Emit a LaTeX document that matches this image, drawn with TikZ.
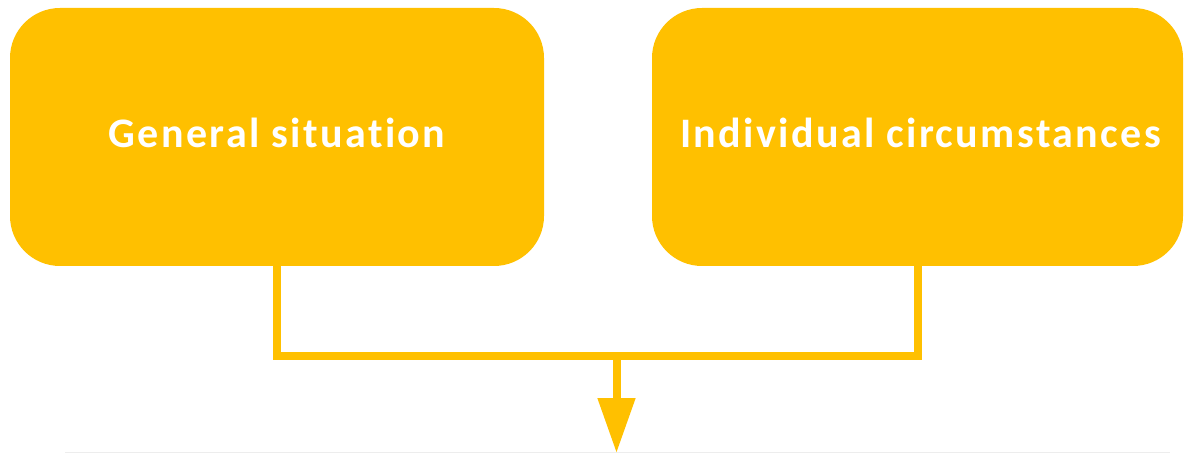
\documentclass[tikz,border=0pt]{standalone}
\usepackage{fontspec}
\setmainfont[Ligatures=NoCommon,LetterSpace=5.7]{Carlito}
\usetikzlibrary{arrows.meta}
\definecolor{gold}{HTML}{FFC000}
\begin{document}
\begin{tikzpicture}[x=1pt,y=-1pt,
  box/.style={fill=gold, draw=none, rounded corners=50pt, inner sep=0pt,
    minimum height=258pt},
  label/.style={text=white, font=\fontsize{42}{46}\selectfont\bfseries, inner sep=0pt},
  conn/.style={draw=gold, line width=8pt},
  tipped/.style={-{Triangle[length=55pt,width=36pt]}}]
\useasboundingbox (0,0) rectangle (1186,454);
\draw[black!7, line width=1.5pt] (65,452.5) -- (1170,452.5);
\node[box, minimum width=534pt] (L) at (277,137) {};
\node[box, minimum width=531pt] (R) at (917.5,137) {};
\node[label] (Lt) at (277,133) {General situation};
\node[label] (Rt) at (920.5,133) {Individual circumstances};
\coordinate (j) at (616.5,356);
\coordinate (tip) at (616.5,453);
\draw[conn] (L.south) -- (L.south |- j) -| (R.south);
\draw[conn, tipped, fill=gold] (j) -- (tip);
\end{tikzpicture}
\end{document}
